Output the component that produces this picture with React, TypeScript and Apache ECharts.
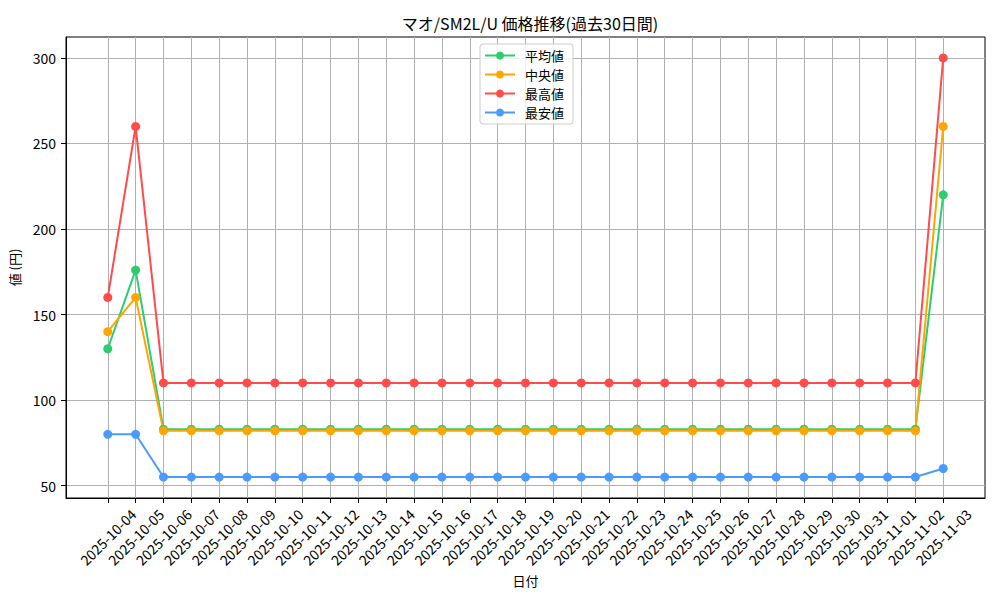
import React, { useEffect, useRef } from "react";
import * as echarts from "echarts";

const dates = [
  "2025-10-04", "2025-10-05", "2025-10-06", "2025-10-07", "2025-10-08", "2025-10-09",
  "2025-10-10", "2025-10-11", "2025-10-12", "2025-10-13", "2025-10-14", "2025-10-15",
  "2025-10-16", "2025-10-17", "2025-10-18", "2025-10-19", "2025-10-20", "2025-10-21",
  "2025-10-22", "2025-10-23", "2025-10-24", "2025-10-25", "2025-10-26", "2025-10-27",
  "2025-10-28", "2025-10-29", "2025-10-30", "2025-10-31", "2025-11-01", "2025-11-02",
  "2025-11-03",
];

const avgValues = [
  130, 176, 83, 83, 83, 83, 83, 83, 83, 83, 83, 83, 83, 83, 83, 83, 83, 83, 83, 83,
  83, 83, 83, 83, 83, 83, 83, 83, 83, 83, 220,
];
const medianValues = [
  140, 160, 82, 82, 82, 82, 82, 82, 82, 82, 82, 82, 82, 82, 82, 82, 82, 82, 82, 82,
  82, 82, 82, 82, 82, 82, 82, 82, 82, 82, 260,
];
const maxValues = [
  160, 260, 110, 110, 110, 110, 110, 110, 110, 110, 110, 110, 110, 110, 110, 110, 110,
  110, 110, 110, 110, 110, 110, 110, 110, 110, 110, 110, 110, 110, 300,
];
const minValues = [
  80, 80, 55, 55, 55, 55, 55, 55, 55, 55, 55, 55, 55, 55, 55, 55, 55, 55, 55, 55, 55,
  55, 55, 55, 55, 55, 55, 55, 55, 55, 60,
];

const yTicks = [50, 100, 150, 200, 250, 300];

const seriesNames = ["平均値", "中央値", "最高値", "最安値"];
const seriesColors = ["#2ecc71", "#ffa500", "#ff4b4b", "#4b9bff"];

const FONT = "'Noto Sans CJK JP', 'Noto Sans', sans-serif";

export default function App() {
  const ref = useRef<HTMLDivElement>(null);

  useEffect(() => {
    document.body.style.margin = "0";
    if (!ref.current) return;
    const chart = echarts.init(ref.current, undefined, { renderer: "svg" });
    const xIdx = dates.map((_, i) => i);
    const allSeries = [avgValues, medianValues, maxValues, minValues];

    chart.setOption({
      animation: false,
      backgroundColor: "#ffffff",
      textStyle: { fontFamily: FONT },
      title: {
        text: "マオ/SM2L/U 価格推移(過去30日間)",
        left: 525,
        top: 10,
        textAlign: "center",
        textStyle: { fontFamily: FONT, fontSize: 16, fontWeight: "normal", color: "#000" },
      },
      legend: {
        orient: "vertical",
        left: 480,
        top: 44,
        data: seriesNames,
        itemWidth: 30,
        itemHeight: 10,
        itemGap: 6,
        padding: [5, 9, 5, 4],
        borderColor: "#cccccc",
        borderWidth: 1,
        borderRadius: 3,
        backgroundColor: "rgba(255,255,255,0.8)",
        textStyle: { fontFamily: FONT, fontSize: 13, color: "#000", padding: [0, 0, 0, 5] },
      },
      grid: {
        left: 65,
        right: 15,
        top: 37,
        bottom: 102,
        show: true,
        borderColor: "#000",
        borderWidth: 1,
      },
      xAxis: {
        type: "value",
        min: -1.5,
        max: dates.length - 1 + 1.5,
        name: "日付",
        nameLocation: "middle",
        nameGap: 72,
        nameTextStyle: { fontFamily: FONT, fontSize: 13, color: "#000" },
        axisLine: { show: true, onZero: false, lineStyle: { color: "#000", width: 1 } },
        axisTick: {
          show: true,
          inside: false,
          length: 5,
          customValues: xIdx,
          lineStyle: { color: "#000" },
        },
        axisLabel: {
          customValues: xIdx,
          rotate: 45,
          align: "center",
          verticalAlign: "middle",
          margin: 39,
          fontFamily: FONT,
          fontSize: 14,
          color: "#000",
          formatter: (v: number) => dates[Math.round(v)] ?? "",
        },
        splitLine: { show: true, lineStyle: { color: "#b0b0b0", width: 1 } },
      },
      yAxis: {
        type: "value",
        min: 42.75,
        max: 312.25,
        name: "値 (円)",
        nameLocation: "middle",
        nameGap: 45,
        nameRotate: 90,
        nameTextStyle: { fontFamily: FONT, fontSize: 13, color: "#000" },
        axisLine: { show: true, onZero: false, lineStyle: { color: "#000", width: 1 } },
        axisTick: {
          show: true,
          inside: false,
          length: 5,
          customValues: yTicks,
          lineStyle: { color: "#000" },
        },
        axisLabel: {
          customValues: yTicks,
          margin: 10,
          fontFamily: FONT,
          fontSize: 14,
          color: "#000",
        },
        splitLine: { show: true, lineStyle: { color: "#b0b0b0", width: 1 } },
      },
      series: allSeries.map((vals, s) => ({
        name: seriesNames[s],
        type: "line",
        data: vals.map((v, i) => [xIdx[i], v]),
        symbol: "circle",
        symbolSize: 9,
        showAllSymbol: true,
        color: seriesColors[s],
        lineStyle: { width: 2, color: seriesColors[s] },
        itemStyle: { color: seriesColors[s] },
        emphasis: { disabled: true },
      })),
    });

    return () => chart.dispose();
  }, []);

  return <div ref={ref} style={{ width: 1000, height: 600 }} />;
}
